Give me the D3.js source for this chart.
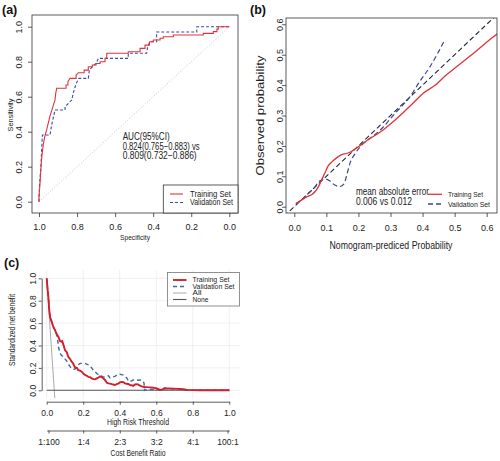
<!DOCTYPE html>
<html><head><meta charset="utf-8">
<script src="https://cdn.jsdelivr.net/npm/d3@7/dist/d3.min.js"></script>
<style>body{margin:0;background:#fff}svg{display:block;font-family:"Liberation Sans",Arial,sans-serif}</style>
</head><body><svg id="c" width="500" height="461"></svg>
<script>
// ---------- DATA ----------
// (a) ROC curves: [specificity, sensitivity]
const rocTrain = [[1,0],[1,0.03],[0.995,0.1],[0.99,0.19],[0.985,0.26],[0.977,0.33],[0.97,0.37],[0.96,0.41],[0.951,0.45],[0.942,0.49],[0.933,0.52],[0.925,0.55],[0.916,0.58],[0.912,0.62],[0.907,0.648],[0.858,0.648],[0.858,0.667],[0.848,0.667],[0.848,0.686],[0.837,0.705],[0.805,0.705],[0.805,0.724],[0.793,0.737],[0.763,0.737],[0.763,0.752],[0.741,0.752],[0.741,0.771],[0.72,0.771],[0.72,0.781],[0.7,0.781],[0.7,0.79],[0.679,0.79],[0.679,0.8],[0.653,0.8],[0.653,0.819],[0.644,0.819],[0.644,0.848],[0.531,0.848],[0.531,0.857],[0.469,0.857],[0.469,0.876],[0.443,0.876],[0.443,0.895],[0.42,0.895],[0.42,0.914],[0.4,0.914],[0.4,0.924],[0.364,0.924],[0.364,0.934],[0.347,0.934],[0.347,0.943],[0.294,0.943],[0.294,0.953],[0.137,0.953],[0.137,0.962],[0.084,0.962],[0.084,0.972],[0.065,0.972],[0.065,0.986],[0.058,0.986],[0.058,1],[0,1]];
const rocValid = [[1,0],[0.997,0.1],[0.99,0.2],[0.986,0.3],[0.982,0.381],[0.942,0.381],[0.935,0.43],[0.925,0.48],[0.916,0.524],[0.863,0.524],[0.863,0.543],[0.845,0.562],[0.828,0.581],[0.82,0.62],[0.81,0.657],[0.8,0.686],[0.79,0.705],[0.741,0.705],[0.735,0.753],[0.72,0.771],[0.7,0.79],[0.688,0.819],[0.531,0.819],[0.531,0.848],[0.434,0.848],[0.43,0.88],[0.417,0.914],[0.382,0.914],[0.382,0.97],[0.171,0.97],[0.171,1],[0,1]];
const rocTicks = [1.0,0.8,0.6,0.4,0.2,0.0];
const aucLines = ["AUC(95%CI)","0.824(0.765\u22120.883) vs","0.809(0.732\u22120.886)"];
const seriesNames = ["Training Set","Validation Set"];

// (b) calibration curves
const calTrainX = [0.005,0.02,0.04,0.055,0.065,0.075,0.085,0.095,0.106,0.12,0.135,0.15,0.163,0.175,0.19,0.21,0.23,0.26,0.28,0.309,0.34,0.37,0.402,0.44,0.47,0.506,0.55,0.585,0.615,0.635];
const calTrainY = [0.01,0.02,0.033,0.04,0.05,0.065,0.088,0.11,0.135,0.15,0.163,0.172,0.175,0.18,0.19,0.205,0.22,0.24,0.255,0.28,0.31,0.34,0.373,0.4,0.43,0.46,0.497,0.528,0.554,0.57];
const calValidX = [0.005,0.02,0.04,0.06,0.08,0.096,0.11,0.125,0.142,0.155,0.165,0.174,0.19,0.205,0.23,0.255,0.278,0.3,0.33,0.361,0.39,0.423,0.45,0.47];
const calValidY = [0.01,0.02,0.04,0.06,0.085,0.091,0.085,0.072,0.066,0.075,0.11,0.144,0.175,0.197,0.22,0.24,0.263,0.29,0.325,0.362,0.41,0.46,0.51,0.55];
const calIdeal = [-0.05,0.7];
const calTicks = [0,0.1,0.2,0.3,0.4,0.5,0.6];
const maeLines = ["mean absolute error","0.006 vs 0.012"];

// (c) decision curves
const dcaTrainX = [0,0.005,0.009,0.014,0.018,0.027,0.036,0.045,0.055,0.064,0.073,0.08,0.085,0.091,0.1,0.11,0.118,0.128,0.137,0.146,0.155,0.165,0.173,0.182,0.192,0.2,0.21,0.219,0.228,0.237,0.246,0.256,0.265,0.274,0.283,0.292,0.3,0.31,0.32,0.329,0.338,0.347,0.356,0.365,0.374,0.383,0.392,0.401,0.41,0.42,0.429,0.438,0.447,0.456,0.465,0.474,0.484,0.493,0.502,0.511,0.52,0.529,0.538,0.55,0.566,0.584,0.602,0.615,0.62,0.63,0.639,0.648,0.657,0.67,0.693,0.72,0.75,0.767,0.8,0.84,1.0];
const dcaTrainY = [1.0,0.9,0.836,0.717,0.657,0.613,0.568,0.54,0.5,0.479,0.44,0.434,0.44,0.41,0.36,0.34,0.3,0.28,0.256,0.235,0.205,0.2,0.18,0.175,0.166,0.15,0.137,0.13,0.12,0.118,0.107,0.1,0.098,0.107,0.112,0.125,0.118,0.107,0.09,0.068,0.062,0.06,0.055,0.052,0.047,0.055,0.06,0.07,0.075,0.072,0.062,0.058,0.056,0.047,0.045,0.04,0.052,0.055,0.05,0.041,0.035,0.032,0.03,0.028,0.026,0.024,0.016,0.008,0.003,0.006,0.012,0.02,0.016,0.017,0.015,0.013,0.01,0.004,0.002,0,0];
const dcaValidX = [0,0.009,0.018,0.036,0.05,0.058,0.064,0.073,0.082,0.091,0.1,0.11,0.118,0.128,0.137,0.146,0.155,0.165,0.175,0.183,0.2,0.21,0.228,0.237,0.246,0.255,0.265,0.274,0.283,0.292,0.3,0.31,0.319,0.329,0.338,0.347,0.356,0.365,0.374,0.383,0.392,0.401,0.41,0.42,0.429,0.438,0.447,0.456,0.465,0.474,0.484,0.493,0.502,0.511,0.52,0.529,0.533,0.536,0.56,0.6,0.62,0.64,0.66,0.7,0.75,0.77,1.0];
const dcaValidY = [1.0,0.836,0.657,0.568,0.52,0.48,0.39,0.33,0.31,0.3,0.28,0.26,0.235,0.211,0.195,0.187,0.19,0.21,0.23,0.24,0.24,0.24,0.228,0.22,0.2,0.18,0.166,0.15,0.14,0.137,0.13,0.118,0.12,0.128,0.13,0.11,0.115,0.12,0.125,0.135,0.14,0.143,0.14,0.135,0.128,0.11,0.085,0.077,0.085,0.092,0.095,0.092,0.09,0.092,0.09,0.08,0.062,0,0.008,0.01,0.006,0.012,0.015,0.012,0.01,0,0];
const dcaAllX = [0,0.0445];
const dcaAllY = [1,-0.07];
const dcaNoneX = [0,1];
const dcaNoneY = [0,0];
const dcaTicks = [0,0.2,0.4,0.6,0.8,1.0];
const costPos = [0.0099,0.2,0.4,0.6,0.8,0.990];
const costLabels = ["1:100","1:4","2:3","3:2","4:1","100:1"];
const dcaNames = ["Training Set","Validation Set","All","None"];

// ---------- DRAW ----------
const svg = d3.select("#c");
const fmt = d3.format(".1f");
function T(g, x, y, s, o = {}) {
  const t = g.append("text").text(s)
    .attr("font-size", o.size || 9)
    .attr("fill", o.fill || "#222")
    .attr("text-anchor", o.anchor || "start");
  if (o.weight) t.attr("font-weight", o.weight);
  if (o.len) t.attr("textLength", o.len).attr("lengthAdjust", "spacingAndGlyphs");
  if (o.rot) t.attr("transform", `translate(${x},${y}) rotate(-90)`);
  else t.attr("x", x).attr("y", y);
  return t;
}
function styleAxis(g, size, rotated, off) {
  g.selectAll("line").attr("stroke", "#333").attr("stroke-width", 0.8);
  g.selectAll("path.domain").attr("stroke", "#333").attr("stroke-width", 0.8);
  g.selectAll("text").attr("font-size", size).attr("fill", "#222")
    .attr("font-family", '"Liberation Sans",Arial,sans-serif');
  if (rotated) {
    g.selectAll("text").attr("transform", "rotate(-90)").attr("x", 0).attr("y", -off)
      .attr("dy", 0).attr("text-anchor", "middle");
  }
}

// ===== Panel (a) =====
const gA = svg.append("g");
const xA = d3.scaleLinear().domain([1, 0]).range([39, 229.3]);
const yA = d3.scaleLinear().domain([0, 1]).range([201.7, 26.7]);
T(gA, 2, 14, "(a)", {size: 12.5, weight: "bold", fill: "#111"});
gA.append("line").attr("x1", xA(1)).attr("y1", yA(0)).attr("x2", xA(0)).attr("y2", yA(1))
  .attr("stroke", "#bbb").attr("stroke-width", 0.9).attr("stroke-dasharray", "1,2");
const lineA = d3.line().x(d => xA(d[0])).y(d => yA(d[1]));
gA.append("path").datum(rocValid).attr("d", lineA).attr("fill", "none")
  .attr("stroke", "#3d4d9c").attr("stroke-width", 1.1).attr("stroke-dasharray", "3,2");
gA.append("path").datum(rocTrain).attr("d", lineA).attr("fill", "none")
  .attr("stroke", "#e0343a").attr("stroke-width", 1.1);
gA.append("rect").attr("x", 32).attr("y", 15).attr("width", 206).attr("height", 198)
  .attr("fill", "none").attr("stroke", "#333").attr("stroke-width", 0.8);
const axA = gA.append("g").attr("transform", "translate(0,213)")
  .call(d3.axisBottom(xA).tickValues(rocTicks).tickFormat(fmt).tickSize(4).tickSizeOuter(0));
axA.select(".domain").remove();
styleAxis(axA, 9);
axA.selectAll("text").attr("y", 11);
const ayA = gA.append("g").attr("transform", "translate(32,0)")
  .call(d3.axisLeft(yA).tickValues(rocTicks).tickFormat(fmt).tickSize(4).tickSizeOuter(0));
ayA.select(".domain").remove();
styleAxis(ayA, 9, true, 10.5);
T(gA, 135, 240, "Specificity", {size: 8, anchor: "middle", len: 30});
T(gA, 12.5, 115, "Sensitivity", {size: 8, anchor: "middle", len: 33, rot: true});
aucLines.forEach((s, i) => T(gA, 122.7, 140 + i * 9.5, s, {size: 10, len: [47, 77, 74][i]}));
gA.append("rect").attr("x", 163.3).attr("y", 185).attr("width", 74.7).attr("height", 28)
  .attr("fill", "#fff").attr("stroke", "#333").attr("stroke-width", 0.8);
[["#e0343a", null], ["#3d4d9c", "3,2"]].forEach((c, i) => {
  const yy = 194 + i * 8.5;
  const l = gA.append("line").attr("x1", 170).attr("x2", 183).attr("y1", yy).attr("y2", yy)
    .attr("stroke", c[0]).attr("stroke-width", 1.1);
  if (c[1]) l.attr("stroke-dasharray", c[1]);
  T(gA, 190, yy + 2.8, seriesNames[i], {size: 8.5, len: [41, 43][i]});
});

// ===== Panel (b) =====
const gB = svg.append("g");
const xB = d3.scaleLinear().domain([0, 0.6]).range([294.3, 486.7]);
const yB = d3.scaleLinear().domain([0, 0.6]).range([206.7, 24.3]);
T(gB, 250, 14, "(b)", {size: 12.5, weight: "bold", fill: "#111"});
gB.append("clipPath").attr("id", "clipB").append("rect")
  .attr("x", 286).attr("y", 18).attr("width", 211).attr("height", 195);
const pB = gB.append("g").attr("clip-path", "url(#clipB)");
const lineB = d3.line().x(d => xB(d[0])).y(d => yB(d[1])).curve(d3.curveMonotoneX);
pB.append("path").datum(d3.zip(calIdeal, calIdeal)).attr("d", d3.line().x(d => xB(d[0])).y(d => yB(d[1])))
  .attr("fill", "none").attr("stroke", "#1e2233").attr("stroke-width", 1.1).attr("stroke-dasharray", "5,3");
pB.append("path").datum(d3.zip(calValidX, calValidY)).attr("d", lineB).attr("fill", "none")
  .attr("stroke", "#3b4690").attr("stroke-width", 1.2).attr("stroke-dasharray", "5,3");
pB.append("path").datum(d3.zip(calTrainX, calTrainY)).attr("d", lineB).attr("fill", "none")
  .attr("stroke", "#e0343a").attr("stroke-width", 1.3);
gB.append("rect").attr("x", 286).attr("y", 18).attr("width", 211).attr("height", 195)
  .attr("fill", "none").attr("stroke", "#333").attr("stroke-width", 0.8);
const axB = gB.append("g").attr("transform", "translate(0,213)")
  .call(d3.axisBottom(xB).tickValues(calTicks).tickFormat(fmt).tickSize(4).tickSizeOuter(0));
axB.select(".domain").remove();
styleAxis(axB, 9);
axB.selectAll("text").attr("y", 12);
const ayB = gB.append("g").attr("transform", "translate(286,0)")
  .call(d3.axisLeft(yB).tickValues(calTicks).tickFormat(fmt).tickSize(3).tickSizeOuter(0));
ayB.select(".domain").remove();
styleAxis(ayB, 9, true, 3.5);
T(gB, 391, 249, "Nomogram-prediced Probability", {size: 11, anchor: "middle", len: 123});
T(gB, 263.5, 115.5, "Observed probability", {size: 11, anchor: "middle", len: 120, rot: true});
maeLines.forEach((s, i) => T(gB, 356, 194.5 + i * 10.5, s, {size: 10, len: [73, 56][i]}));
[["#e0343a", null], ["#3b4690", "5,3"]].forEach((c, i) => {
  const yy = 194.3 + i * 9.7;
  const l = gB.append("line").attr("x1", 428).attr("x2", 442).attr("y1", yy).attr("y2", yy)
    .attr("stroke", c[0]).attr("stroke-width", 1.3);
  if (c[1]) l.attr("stroke-dasharray", c[1]);
  T(gB, 448, yy + 3, seriesNames[i], {size: 8, len: [35, 42][i]});
});

// ===== Panel (c) =====
const gC = svg.append("g");
const xC = d3.scaleLinear().domain([0, 1]).range([46.7, 229.3]);
const yC = d3.scaleLinear().domain([0, 1]).range([390.3, 278.3]);
T(gC, 4, 267, "(c)", {size: 12.5, weight: "bold", fill: "#111"});
dcaTicks.forEach(v => {
  gC.append("line").attr("x1", xC(v)).attr("x2", xC(v)).attr("y1", 270).attr("y2", 399)
    .attr("stroke", "#ececec").attr("stroke-width", 0.8);
  gC.append("line").attr("x1", 41).attr("x2", 240).attr("y1", yC(v)).attr("y2", yC(v))
    .attr("stroke", "#ececec").attr("stroke-width", 0.8);
});
gC.append("clipPath").attr("id", "clipC").append("rect")
  .attr("x", 41).attr("y", 270).attr("width", 199).attr("height", 128.5);
const pC = gC.append("g").attr("clip-path", "url(#clipC)");
const lineC = d3.line().x(d => xC(d[0])).y(d => yC(d[1]));
pC.append("path").datum(d3.zip(dcaAllX, dcaAllY)).attr("d", lineC).attr("fill", "none")
  .attr("stroke", "#aaa").attr("stroke-width", 1);
pC.append("path").datum(d3.zip(dcaNoneX, dcaNoneY)).attr("d", lineC).attr("fill", "none")
  .attr("stroke", "#555").attr("stroke-width", 1.1);
pC.append("path").datum(d3.zip(dcaValidX, dcaValidY)).attr("d", lineC).attr("fill", "none")
  .attr("stroke", "#3a6aa8").attr("stroke-width", 1.4).attr("stroke-dasharray", "4,3");
pC.append("path").datum(d3.zip(dcaTrainX, dcaTrainY)).attr("d", lineC).attr("fill", "none")
  .attr("stroke", "#d0202c").attr("stroke-width", 1.9);
const axC = gC.append("g").attr("transform", "translate(0,401.7)")
  .call(d3.axisBottom(xC).tickValues(dcaTicks).tickFormat(fmt).tickSize(3).tickSizeOuter(0));
styleAxis(axC, 8.5);
axC.selectAll("text").attr("y", 8);
const acC = gC.append("g").attr("transform", "translate(0,430.5)")
  .call(d3.axisBottom(xC).tickValues(costPos).tickFormat((d, i) => costLabels[i]).tickSize(3).tickSizeOuter(0));
styleAxis(acC, 8.5);
acC.selectAll("text").attr("y", 8);
const ayC = gC.append("g").attr("transform", "translate(41.7,0)")
  .call(d3.axisLeft(yC).tickValues(dcaTicks).tickFormat(fmt).tickSize(3).tickSizeOuter(0));
styleAxis(ayC, 8.5, true, 5.5);
T(gC, 138, 425, "High Risk Threshold", {size: 9, anchor: "middle", len: 62});
T(gC, 138, 456, "Cost Benefit Ratio", {size: 9, anchor: "middle", len: 55});
T(gC, 14.5, 330, "Standardized net benefit", {size: 8.5, anchor: "middle", len: 72, rot: true});
gC.append("rect").attr("x", 167.5).attr("y", 272.5).attr("width", 72).attr("height", 33.5)
  .attr("fill", "#fff").attr("stroke", "#777").attr("stroke-width", 0.8);
const legC = [["#d0202c", 1.9, null], ["#3a6aa8", 1.4, "4,3"], ["#aaa", 1, null], ["#555", 1.1, null]];
legC.forEach((c, i) => {
  const yy = 280 + i * 6.5;
  const l = gC.append("line").attr("x1", 173).attr("x2", 186.5).attr("y1", yy).attr("y2", yy)
    .attr("stroke", c[0]).attr("stroke-width", c[1]);
  if (c[2]) l.attr("stroke-dasharray", c[2]);
  T(gC, 192.5, yy + 2.4, dcaNames[i], {size: 7, len: [37, 42, 9, 16][i]});
});
</script></body></html>
